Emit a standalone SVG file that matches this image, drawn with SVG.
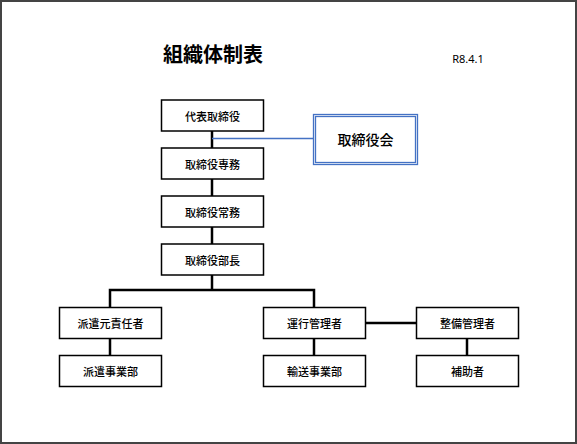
<svg xmlns="http://www.w3.org/2000/svg" width="577" height="444" viewBox="0 0 577 444">
<style>
.box{fill:#fff;stroke:#000;stroke-width:1.5}
.t{font-family:"Noto Sans CJK JP","Noto Sans",sans-serif;font-size:11px;font-weight:500;text-anchor:middle;dominant-baseline:central;fill:#000}
.c{fill:none;stroke:#000;stroke-width:2.5}
.b{fill:none;stroke:#4472C4;stroke-width:1.3}
</style>
<rect x="1" y="1" width="575" height="442" fill="#fff" stroke="#444" stroke-width="2"/>
<text x="213" y="53" style="font-family:'Noto Sans CJK JP',sans-serif;font-size:20px;font-weight:700;text-anchor:middle;dominant-baseline:central">組織体制表</text>
<text x="468" y="58" style="font-family:'Noto Sans','Noto Sans CJK JP',sans-serif;font-size:11px;text-anchor:middle;dominant-baseline:central">R8.4.1</text>
<g id="connectors">
<line class="c" x1="212" y1="131" x2="212" y2="148"/>
<line class="c" x1="212" y1="179" x2="212" y2="196"/>
<line class="c" x1="212" y1="227" x2="212" y2="244"/>
<polyline class="c" points="212,275 212,290"/>
<polyline class="c" points="110,307 110,290 314,290 314,307"/>
<line class="c" x1="110" y1="338" x2="110" y2="355"/>
<line class="c" x1="314" y1="338" x2="314" y2="355"/>
<line class="c" x1="467" y1="338" x2="467" y2="355"/>
<line class="c" x1="365" y1="323" x2="417" y2="323"/>
<line class="b" x1="212" y1="138.5" x2="313.5" y2="138.5"/>
</g>
<g id="n1"><rect class="box" x="161.5" y="100" width="102" height="31"/><text class="t" x="212.5" y="115.5">代表取締役</text></g>
<g id="n2"><rect class="box" x="161.5" y="148" width="102" height="31"/><text class="t" x="212.5" y="163.5">取締役専務</text></g>
<g id="n3"><rect class="box" x="161.5" y="196" width="102" height="31"/><text class="t" x="212.5" y="211.5">取締役常務</text></g>
<g id="n4"><rect class="box" x="161.5" y="244" width="102" height="31"/><text class="t" x="212.5" y="259.5">取締役部長</text></g>
<g id="board"><rect class="b" x="313.5" y="114.5" width="104" height="50"/><rect class="b" x="315.5" y="116.5" width="100" height="46"/><text class="t" x="365.5" y="139" style="font-size:14px">取締役会</text></g>
<g id="n5"><rect class="box" x="59.5" y="307.5" width="102" height="31"/><text class="t" x="110.5" y="323">派遣元責任者</text></g>
<g id="n6"><rect class="box" x="59.5" y="355.5" width="102" height="31"/><text class="t" x="110.5" y="371">派遣事業部</text></g>
<g id="n7"><rect class="box" x="263.5" y="307.5" width="102" height="31"/><text class="t" x="314.5" y="323">運行管理者</text></g>
<g id="n8"><rect class="box" x="263.5" y="355.5" width="102" height="31"/><text class="t" x="314.5" y="371">輸送事業部</text></g>
<g id="n9"><rect class="box" x="416.5" y="307.5" width="102" height="31"/><text class="t" x="467.5" y="323">整備管理者</text></g>
<g id="n10"><rect class="box" x="416.5" y="355.5" width="102" height="31"/><text class="t" x="467.5" y="371">補助者</text></g>
</svg>
